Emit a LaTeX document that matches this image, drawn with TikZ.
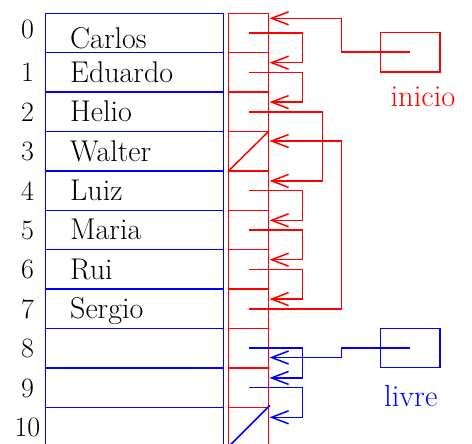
\documentclass[tikz,border=0pt]{standalone}
\usetikzlibrary{arrows.meta,calc}
\definecolor{cblue}{RGB}{0,0,255}
\definecolor{cred}{RGB}{255,0,0}
\begin{document}
\begin{tikzpicture}[x=1pt,y=-1pt,
  lw/.style={line width=1.5pt},
  cellN/.style={draw=cblue,line width=1.5pt,minimum width=178pt,minimum height=39.4pt,inner sep=0pt,outer sep=0pt,anchor=north west},
  cellP/.style={draw=cred,line width=1.5pt,minimum width=40pt,minimum height=39.4pt,inner sep=0pt,outer sep=0pt,anchor=north west},
  varbox/.style={line width=1.5pt,minimum width=59.3pt,minimum height=39.2pt,inner sep=0pt,outer sep=0pt},
  idx/.style={anchor=base,font=\fontsize{28}{28}\selectfont,inner sep=0pt},
  nm/.style={anchor=base west,font=\fontsize{30}{30}\selectfont,inner sep=0pt},
  lab/.style={anchor=base,font=\fontsize{30.5}{30.5}\selectfont,inner sep=0pt},
  ptr/.style={line width=1.5pt,-{Straight Barb[length=17pt,width=13pt,line width=1.5pt]}},
]
\useasboundingbox (0,0) rectangle (472,444);
\foreach \i in {0,...,10} {
  \node[cellN] (n\i) at (45.5,{13.3+39.4*\i}) {};
  \node[cellP] (p\i) at (228.5,{13.3+39.4*\i}) {};
}
\node[idx] (i0) at (27.5,38.5) {0};
\foreach \i in {1,...,10} {
  \node[idx] (i\i) at (27.5,{42.5+39.4*\i}) {\i};
}
\node[nm] (t0) at (70,48.7) {Carlos};
\node[nm] (t1) at (70,82.2) {Eduardo};
\node[nm] (t2) at (70,121.6) {Helio};
\node[nm] (t3) at (70,161) {Walter};
\node[nm] (t4) at (70,200.4) {Luiz};
\node[nm] (t5) at (70,239.8) {Maria};
\node[nm] (t6) at (70,279.2) {Rui};
\node[nm] (t7) at (70,318.6) {Sergio};
% null markers
\draw[cred,lw] (p3.south west) -- (p3.north east);
\draw[cblue,lw] (p10.south west) -- ($(p10.north east)+(1.5,-2)$);
% variables
\node[varbox,draw=cred] (ini) at (410.3,52.2) {};
\node[varbox,draw=cblue] (liv) at (410.3,348) {};
\node[lab,text=cred] (tini) at (423,106.5) {inicio};
\node[lab,text=cblue] (tliv) at (410.8,406.7) {livre};
% red pointers
\draw[ptr,cred] (ini.center) -- ++(-68.6,0) |- ($(p0.north east)+(1,5)$);
\draw[ptr,cred] (p0.center) -- ++(54,0) |- ($(p1.north east)+(1,10)$);
\draw[ptr,cred] (p1.center) -- ++(54,0) |- ($(p2.north east)+(1,10)$);
\draw[ptr,cred] (p2.center) -- ++(74,0) |- ($(p4.north east)+(1,10)$);
\draw[ptr,cred] (p4.center) -- ++(54,0) |- ($(p5.north east)+(1,10)$);
\draw[ptr,cred] (p5.center) -- ++(54,0) |- ($(p6.north east)+(1,10)$);
\draw[ptr,cred] (p6.center) -- ++(54,0) |- ($(p7.north east)+(1,10)$);
\draw[ptr,cred] (p7.center) -- ++(93.2,0) |- ($(p3.north east)+(1,9.5)$);
% blue pointers
\draw[ptr,cblue] (liv.center) -- ++(-68.6,0) |- ($(p8.north east)+(1,29)$);
\draw[ptr,cblue] (p8.center) -- ++(54,0) |- ($(p9.north east)+(1,10)$);
\draw[ptr,cblue] (p9.center) -- ++(54,0) |- ($(p10.north east)+(1,10)$);
\end{tikzpicture}
\end{document}
